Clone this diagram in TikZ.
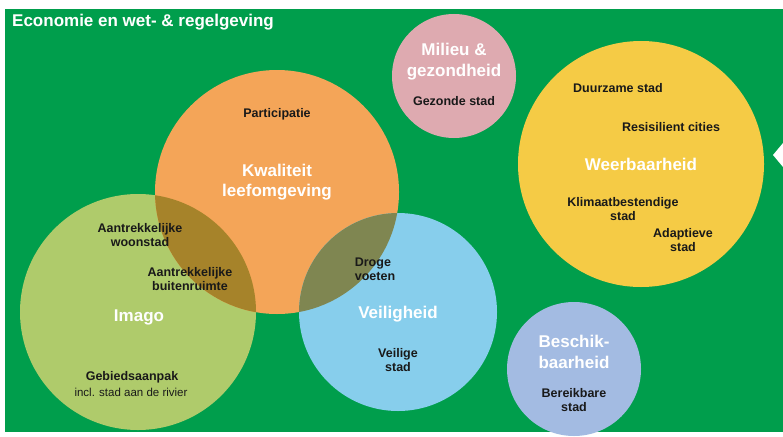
\documentclass[tikz,border=0pt]{standalone}
\usepackage{fontspec}
\setmainfont{Liberation Sans}
\begin{document}
\begin{tikzpicture}[x=1pt,y=-1pt,
  bub/.style={circle,inner sep=0pt,draw=none},
  big/.style={text=white,font=\fontsize{17}{20.5}\selectfont\bfseries,align=center,inner sep=0pt},
  small/.style={text=black!90,font=\fontsize{12.5}{14}\selectfont\bfseries,align=center,inner sep=0pt},
  thin/.style={text=black!90,font=\fontsize{11.5}{14}\selectfont,align=center,inner sep=0pt}]
\definecolor{bg}{RGB}{0,158,76}
\definecolor{cor}{RGB}{244,165,88}
\definecolor{cgr}{RGB}{175,203,107}
\definecolor{cbl}{RGB}{135,206,236}
\definecolor{cpk}{RGB}{222,170,176}
\definecolor{cye}{RGB}{245,203,69}
\definecolor{clv}{RGB}{163,187,226}
\definecolor{ogov}{RGB}{166,131,42}
\definecolor{obov}{RGB}{127,134,81}
\useasboundingbox (0,0) rectangle (783,436);
\fill[white] (0,0) rectangle (783,436);
\fill[bg] (5,9) rectangle (783,432);
% circles
\node[bub,fill=cgr,minimum size=236pt] (imago) at (138,312) {};
\node[bub,fill=cor,minimum size=244pt] (kwal) at (277,192) {};
\node[bub,fill=cbl,minimum size=198pt] (veil) at (398,312) {};
\node[bub,fill=cpk,minimum size=124pt] (mil) at (454,76) {};
\node[bub,fill=cye,minimum size=246pt] (weer) at (641,164) {};
\node[bub,fill=clv,minimum size=134pt] (besch) at (574,369) {};
% overlaps
\begin{scope}
  \clip (kwal.center) circle[radius=122];
  \fill[ogov] (imago.center) circle[radius=118];
  \fill[obov] (veil.center) circle[radius=99];
\end{scope}
% arrow marker on right edge
\fill[white] (773,155) -- (783,143) -- (783,167) -- cycle;
% title
\node[text=white,font=\fontsize{17}{20}\selectfont\bfseries,anchor=base west,inner sep=0pt] (title) at (12,27) {Economie en wet- \& regelgeving};
% labels
\node[small] (part) at (277,114) {Participatie};
\node[big] (kwalt) at (277,182) {Kwaliteit\\leefomgeving};
\node[big] (milt) at (454,61.5) {Milieu \&\\gezondheid};
\node[small] (gez) at (454,101) {Gezonde stad};
\node[small] (duur) at (618,88) {Duurzame stad};
\node[small] (res) at (671,127) {Resisilient cities};
\node[big] (weert) at (641,164) {Weerbaarheid};
\node[small] (klim) at (623,209.5) {Klimaatbestendige\\stad};
\node[small] (adap) at (683,240.5) {Adaptieve\\stad};
\node[small] (woon) at (140,235) {Aantrekkelijke\\woonstad};
\node[small] (buit) at (190,279.5) {Aantrekkelijke\\buitenruimte};
\node[big] (imagot) at (139,317) {Imago};
\node[small,align=left] (droge) at (375,269) {Droge\\voeten};
\node[big] (veilt) at (398,314) {Veiligheid};
\node[small] (vstad) at (398,360.5) {Veilige\\stad};
\node[small] (gebied) at (132,377) {Gebiedsaanpak};
\node[thin] (incl) at (131,392) {incl. stad aan de rivier};
\node[big] (beschk) at (574,352) {Beschik-\\baarheid};
\node[small] (bereik) at (574,400) {Bereikbare\\stad};
\end{tikzpicture}
\end{document}
